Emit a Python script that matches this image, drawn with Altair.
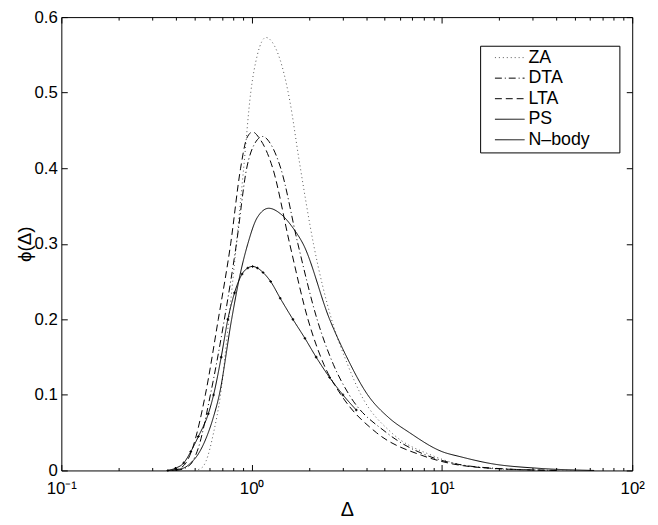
import altair as alt
import pandas as pd

# ---------------- data ----------------
za_x = [0.501, 0.550, 0.575, 0.631, 0.686, 0.759, 0.832, 0.908, 0.989, 1.072, 1.189, 1.318,
        1.445, 1.585, 1.778, 2.113, 2.630, 3.162, 3.758, 5.433, 8.851, 14.45, 25.1, 50.1]
za_y = [0.0, 0.004, 0.012, 0.050, 0.100, 0.200, 0.300, 0.400, 0.500, 0.550, 0.573, 0.562,
        0.535, 0.490, 0.410, 0.300, 0.200, 0.143, 0.100, 0.050, 0.020, 0.005, 0.001, 0.0]

dta_x = [0.398, 0.447, 0.490, 0.525, 0.607, 0.719, 0.832, 0.942, 1.035, 1.143, 1.259, 1.422,
         1.750, 2.208, 2.692, 3.258, 5.117, 8.318, 11.22, 18.62, 39.8]
dta_y = [0.0, 0.003, 0.012, 0.030, 0.100, 0.200, 0.300, 0.400, 0.432, 0.442, 0.432, 0.400,
         0.300, 0.200, 0.140, 0.100, 0.050, 0.020, 0.010, 0.003, 0.0]

lta_x = [0.380, 0.421, 0.457, 0.490, 0.571, 0.668, 0.776, 0.875, 0.944, 1.012, 1.096, 1.291,
         1.585, 1.977, 2.399, 2.951, 4.529, 7.834, 10.72, 17.78, 39.8]
lta_y = [0.0, 0.003, 0.012, 0.030, 0.100, 0.200, 0.300, 0.400, 0.440, 0.448, 0.440, 0.400,
         0.300, 0.200, 0.140, 0.100, 0.050, 0.020, 0.010, 0.003, 0.0]

ps_x = [0.363, 0.437, 0.479, 0.525, 0.575, 0.627, 0.676, 0.785, 0.871, 0.955, 1.072, 1.230,
        1.413, 1.660, 1.862, 2.570, 3.162, 4.074, 5.248, 6.761, 10.0, 12.59, 18.2, 31.6, 63.1]
ps_y = [0.0, 0.003, 0.010, 0.022, 0.042, 0.069, 0.100, 0.200, 0.260, 0.300, 0.335, 0.347,
        0.340, 0.320, 0.300, 0.200, 0.150, 0.100, 0.070, 0.050, 0.025, 0.018, 0.009, 0.003, 0.0]

nb_x = [0.363, 0.398, 0.440, 0.479, 0.525, 0.592, 0.631, 0.692, 0.750, 0.813, 0.891, 0.955,
        1.012, 1.072, 1.148, 1.259, 1.413, 1.648, 1.905, 2.183, 2.570, 3.020, 3.548]
nb_y = [0.0, 0.003, 0.010, 0.025, 0.045, 0.075, 0.100, 0.150, 0.200, 0.235, 0.260, 0.268,
        0.270, 0.268, 0.262, 0.250, 0.228, 0.200, 0.175, 0.150, 0.123, 0.100, 0.080]

series_names = ["ZA", "DTA", "LTA", "PS", "N–body"]
x_tick_major = [0.1, 1, 10, 100]
x_tick_all = [0.1, 0.2, 0.3, 0.4, 0.5, 0.6, 0.7, 0.8, 0.9,
              1, 2, 3, 4, 5, 6, 7, 8, 9,
              10, 20, 30, 40, 50, 60, 70, 80, 90, 100]
y_ticks = [0, 0.1, 0.2, 0.3, 0.4, 0.5, 0.6]

# ---------------- build table ----------------
rows = []
for name, xs, ys in zip(series_names,
                        [za_x, dta_x, lta_x, ps_x, nb_x],
                        [za_y, dta_y, lta_y, ps_y, nb_y]):
    for i, (a, b) in enumerate(zip(xs, ys)):
        rows.append({"x": a, "y": b, "series": name, "i": i})
df = pd.DataFrame(rows)
frame = pd.DataFrame({"x": [0.1, 100], "y": [0, 0.6]})

FONT = "Liberation Sans"
W, H = 578, 459

x_scale = alt.Scale(type="log", domain=[0.1, 100], nice=False)
y_scale = alt.Scale(domain=[0, 0.6], nice=False, zero=False)

dash_range = [[1, 3], [7, 3, 1, 3], [7, 4], [1, 0], [1, 0]]
color_range = ["#555555", "black", "black", "black", "black"]

legend = alt.Legend(
    orient="none", legendX=424, legendY=29, title=None,
    symbolType="M-3,0H3", symbolSize=100, symbolStrokeWidth=1,
    labelFont=FONT, labelFontSize=18, labelColor="black", labelOffset=10,
    padding=3, symbolOffset=18, rowPadding=2.8,
    strokeColor="black", fillColor="white",
    labelExpr="datum.label + '\u2800\u2800'",
)

main = alt.Chart(df).mark_line(strokeWidth=1, interpolate="monotone").encode(
    x=alt.X("x:Q", scale=x_scale, axis=alt.Axis(
        values=x_tick_major,
        labelExpr="datum.value < 0.5 ? '10⁻¹' : datum.value < 5 ? '10⁰' : datum.value < 50 ? '10¹' : '10²'",
        ticks=False, domain=False, grid=False, labelFlush=False, labelBound=False,
        labelFont=FONT, labelFontSize=17, labelColor="black", labelPadding=10,
        title="Δ", titleFont=FONT, titleFontSize=20, titleFontWeight="normal",
        titleColor="black", titlePadding=4)),
    y=alt.Y("y:Q", scale=y_scale, axis=alt.Axis(
        values=y_ticks,
        labelExpr="datum.value == 0 ? '0' : format(datum.value, '.1f')",
        ticks=False, domain=False, grid=False, labelFlush=False,
        labelFont=FONT, labelFontSize=17, labelColor="black", labelPadding=4,
        title="ϕ(Δ)", titleFont=FONT, titleFontSize=19, titleFontWeight="normal",
        titleColor="black", titlePadding=0)),
    strokeDash=alt.StrokeDash("series:N", scale=alt.Scale(domain=series_names, range=dash_range), legend=legend),
    color=alt.Color("series:N", scale=alt.Scale(domain=series_names, range=color_range), legend=legend),
    order="i:Q",
)

nbody_pts = alt.Chart(df).transform_filter(alt.datum.series == "N–body").mark_point(
    shape="cross", filled=True, size=7, color="black", opacity=1
).encode(
    x=alt.X("x:Q", scale=x_scale, axis=None),
    y=alt.Y("y:Q", scale=y_scale, axis=None),
)

major_test = "datum.value == 0.1 || datum.value == 1 || datum.value == 10 || datum.value == 100"


def x_ticks(orient):
    return alt.Chart(frame).mark_point(opacity=0).encode(
        x=alt.X("x:Q", scale=x_scale, axis=alt.Axis(
            orient=orient, offset=-H, values=x_tick_all,
            tickSize={"condition": {"test": major_test, "value": 6}, "value": 3},
            tickColor="black", labels=False, domain=False, grid=False, title=None)),
        y=alt.Y("y:Q", scale=y_scale, axis=None),
    )


def y_ticks_layer(orient):
    return alt.Chart(frame).mark_point(opacity=0).encode(
        x=alt.X("x:Q", scale=x_scale, axis=None),
        y=alt.Y("y:Q", scale=y_scale, axis=alt.Axis(
            orient=orient, offset=-W, values=y_ticks, tickSize=6,
            tickColor="black", labels=False, domain=False, grid=False, title=None)),
    )


chart = alt.layer(
    main, nbody_pts,
    x_ticks("top"), x_ticks("bottom"),
    y_ticks_layer("left"), y_ticks_layer("right"),
).resolve_axis(x="independent", y="independent").properties(
    width=W, height=H,
    autosize=alt.AutoSizeParams(type="none"),
    padding={"left": 54, "top": 6, "right": 18, "bottom": 52},
).configure_view(stroke="black", strokeWidth=1)

chart.save("out.html", embed_options={"renderer": "svg", "actions": False})
